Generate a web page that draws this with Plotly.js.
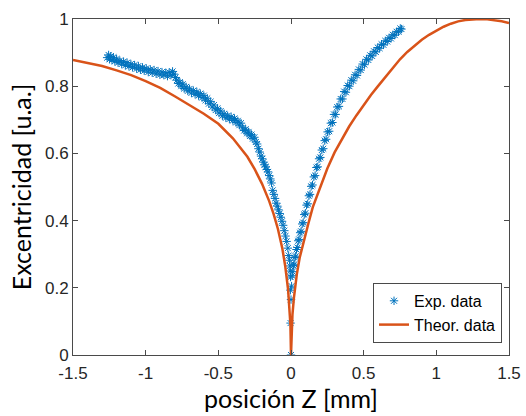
<!DOCTYPE html>
<html>
<head>
<meta charset="utf-8">
<script src="https://cdn.plot.ly/plotly-3.0.1.min.js"></script>
<style>html,body{margin:0;padding:0;background:#fff;}#chart{width:526px;height:416px;}</style>
</head>
<body>
<div id="chart"></div>
<script>
const expX = [
-1.265,-1.255,-1.248,-1.240,-1.232,-1.222,-1.212,-1.200,-1.190,-1.178,-1.165,-1.152,-1.140,-1.128,-1.115,-1.102,-1.090,-1.076,-1.062,-1.050,
-1.036,-1.022,-1.010,-0.996,-0.982,-0.968,-0.955,-0.942,-0.928,-0.915,-0.902,-0.888,-0.875,-0.862,-0.850,-0.838,-0.826,-0.815,-0.805,-0.795,
-0.785,-0.775,-0.765,-0.755,-0.745,-0.735,-0.722,-0.710,-0.698,-0.685,-0.672,-0.660,-0.648,-0.636,-0.624,-0.612,-0.600,-0.588,-0.576,-0.565,
-0.553,-0.542,-0.530,-0.518,-0.506,-0.495,-0.484,-0.472,-0.460,-0.448,-0.436,-0.424,-0.412,-0.400,-0.389,-0.378,-0.366,-0.355,-0.344,-0.333,
-0.322,-0.312,-0.302,-0.292,-0.282,-0.272,-0.262,-0.252,-0.242,-0.233,-0.224,-0.215,-0.206,-0.198,-0.190,-0.182,-0.174,-0.166,-0.158,-0.150,
-0.142,-0.134,-0.126,-0.118,-0.110,-0.102,-0.094,-0.086,-0.078,-0.070,-0.062,-0.054,-0.046,-0.038,-0.030,-0.022,-0.016,-0.010,-0.008,-0.005,
-0.003,-0.004,0.000,-0.003,0.000,
0.004,0.008,0.012,0.017,0.022,0.027,0.032,0.038,0.044,0.050,0.056,0.063,0.070,0.077,0.084,0.091,0.099,0.107,0.115,0.123,
0.131,0.139,0.148,0.157,0.166,0.175,0.184,0.193,0.202,0.212,0.222,0.232,0.242,0.252,0.263,0.274,0.285,0.296,0.307,0.318,
0.330,0.342,0.354,0.366,0.378,0.390,0.402,0.415,0.428,0.441,0.454,0.467,0.480,0.493,0.506,0.519,0.532,0.545,0.558,0.571,
0.584,0.597,0.610,0.623,0.636,0.649,0.662,0.675,0.688,0.701,0.714,0.727,0.740,0.752,0.760
];
const expY = [
0.885,0.893,0.880,0.889,0.878,0.886,0.874,0.881,0.870,0.876,0.866,0.873,0.862,0.870,0.859,0.866,0.856,0.863,0.852,0.860,
0.849,0.856,0.846,0.853,0.842,0.850,0.840,0.848,0.837,0.845,0.834,0.842,0.833,0.840,0.830,0.841,0.833,0.844,0.836,0.826,
0.818,0.808,0.812,0.800,0.806,0.793,0.798,0.786,0.792,0.780,0.787,0.776,0.783,0.772,0.778,0.766,0.772,0.758,0.764,0.748,
0.754,0.738,0.744,0.729,0.734,0.720,0.726,0.712,0.718,0.706,0.712,0.702,0.709,0.698,0.704,0.692,0.697,0.684,0.690,0.676,
0.668,0.672,0.660,0.664,0.652,0.656,0.644,0.648,0.634,0.628,0.614,0.604,0.592,0.584,0.574,0.566,0.560,0.552,0.545,0.534,
0.524,0.512,0.490,0.478,0.466,0.452,0.443,0.432,0.421,0.410,0.398,0.386,0.370,0.354,0.338,0.318,0.296,0.282,0.265,0.250,
0.232,0.193,0.165,0.095,0.000,
0.205,0.236,0.248,0.266,0.270,0.290,0.294,0.314,0.320,0.340,0.344,0.364,0.368,0.390,0.394,0.418,0.422,0.446,0.450,0.474,
0.478,0.502,0.506,0.530,0.534,0.558,0.560,0.584,0.588,0.610,0.614,0.638,0.642,0.664,0.666,0.690,0.692,0.716,0.716,0.738,
0.740,0.762,0.762,0.784,0.782,0.802,0.800,0.818,0.816,0.834,0.832,0.850,0.848,0.866,0.864,0.880,0.878,0.892,0.890,0.904,
0.902,0.915,0.913,0.925,0.923,0.935,0.933,0.944,0.942,0.953,0.952,0.962,0.962,0.972,0.970
];
// Theoretical curve
const thX = [-1.5,-1.4,-1.3,-1.2,-1.1,-1.0,-0.9,-0.8,-0.7,-0.6,-0.5,-0.4,-0.3,-0.25,-0.2,-0.15,-0.12,-0.09,-0.06,-0.04,-0.02,-0.01,-0.004,0,
0.004,0.01,0.02,0.04,0.06,0.09,0.12,0.15,0.2,0.25,0.3,0.35,0.4,0.45,0.5,0.55,0.6,0.65,0.7,0.75,0.8,0.85,0.9,0.95,1.0,1.05,1.1,1.15,1.2,1.25,1.3,1.35,1.4,1.45,1.5];
const thY = [0.878,0.869,0.860,0.847,0.833,0.815,0.795,0.770,0.745,0.718,0.688,0.645,0.590,0.553,0.510,0.458,0.420,0.375,0.318,0.265,0.195,0.140,0.090,0,
0.080,0.120,0.170,0.240,0.290,0.345,0.392,0.440,0.500,0.555,0.603,0.643,0.680,0.713,0.745,0.774,0.801,0.828,0.855,0.880,0.902,0.921,0.938,0.953,0.966,0.977,0.986,0.993,0.997,0.999,1.000,0.999,0.997,0.993,0.988];

const xTicks = [-1.5,-1,-0.5,0,0.5,1,1.5];
const xTickText = ["-1.5","-1","-0.5","0","0.5","1","1.5"];
const yTicks = [0,0.2,0.4,0.6,0.8,1];
const yTickText = ["0","0.2","0.4","0.6","0.8","1"];
const seriesNames = ["Exp. data","Theor. data"];

const axisCol = '#262626';
const lineCol = '#4a4a4a';
const tickFont = {family:'"Liberation Sans", Arial, sans-serif', size:17, color:axisCol};
const titleFont = {family:'Lato, "Open Sans", sans-serif', size:25, color:'#000'};

const traces = [
  {x:expX, y:expY, type:'scatter', mode:'markers', name:seriesNames[0],
   marker:{symbol:'asterisk-open', size:7, color:'#0072BD', line:{color:'#0072BD', width:1}}},
  {x:thX, y:thY, type:'scatter', mode:'lines', name:seriesNames[1],
   line:{color:'#D95319', width:2.5}}
];

const layout = {
  width:526, height:416,
  margin:{l:73, r:17, t:19, b:61},
  paper_bgcolor:'#ffffff', plot_bgcolor:'#ffffff',
  showlegend:true,
  xaxis:{range:[-1.5,1.5], tickvals:xTicks, ticktext:xTickText, ticks:'inside', ticklen:5,
    tickcolor:lineCol, showline:true, linecolor:lineCol, linewidth:1, mirror:'ticks',
    showgrid:false, zeroline:false, tickfont:tickFont, ticklabelstandoff:3,
    title:{text:'posición Z [mm]', font:titleFont, standoff:4}},
  yaxis:{range:[0,1], tickvals:yTicks, ticktext:yTickText, ticks:'inside', ticklen:5,
    tickcolor:lineCol, showline:true, linecolor:lineCol, linewidth:1, mirror:'ticks',
    showgrid:false, zeroline:false, tickfont:tickFont,
    title:{text:'Excentricidad [u.a.]', font:titleFont, standoff:6}},
  legend:{x:0.984, y:0.036, xanchor:'right', yanchor:'bottom', bgcolor:'#ffffff',
    bordercolor:lineCol, borderwidth:1, font:{family:'"Liberation Sans", Arial, sans-serif', size:16, color:'#000'},
    tracegroupgap:0}
};

Plotly.newPlot('chart', traces, layout, {displayModeBar:false, staticPlot:true});
</script>
</body>
</html>
